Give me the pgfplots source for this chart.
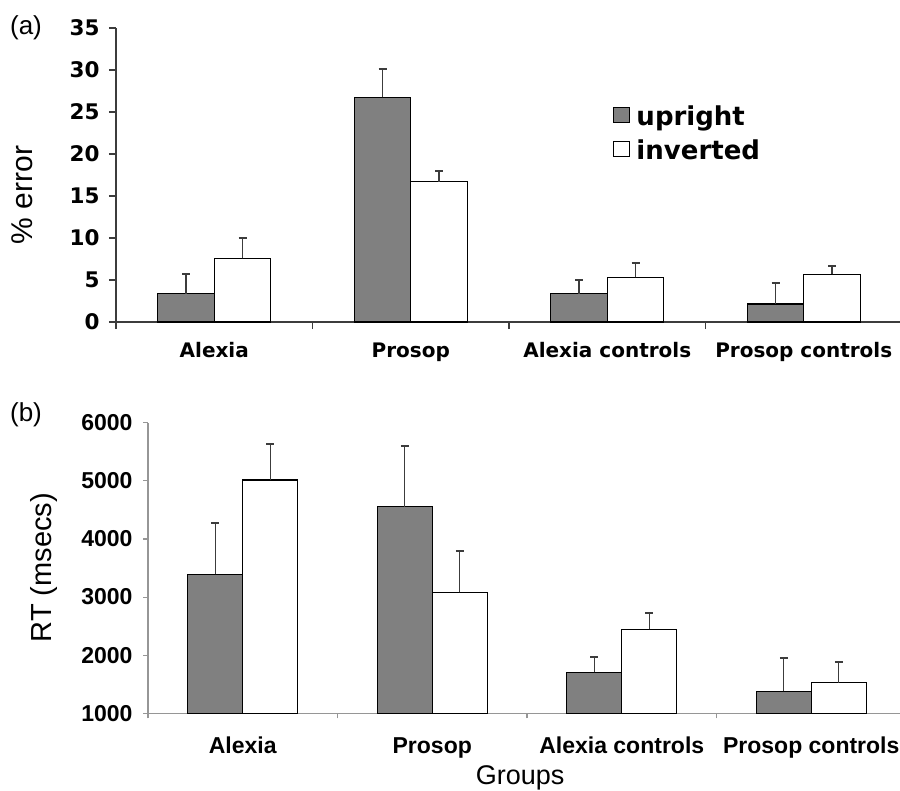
\documentclass[border=0pt]{standalone}
\usepackage{pgfplots}
\pgfplotsset{compat=1.18}
\usepackage{fontspec}
\setmainfont{Liberation Sans}
\newfontfamily\dejavu{DejaVu Sans}
\definecolor{barfill}{RGB}{128,128,128}
\definecolor{axA}{RGB}{60,60,60}
\definecolor{axB}{RGB}{150,150,150}
\definecolor{errc}{RGB}{60,60,60}
\pgfplotsset{
  errstyle/.style={error bars/.cd, y dir=plus, y explicit,
    error bar style={line width=1.3bp, draw=errc},
    error mark=|, error mark options={line width=1.8bp, mark size=4bp, draw=errc}},
}
\begin{document}
\begin{tikzpicture}[x=1bp,y=1bp]
% ---------------- panel (a)
\begin{axis}[
  at={(116bp,-322bp)}, anchor=south west,
  scale only axis, width=786bp, height=294bp,
  xmin=-0.5, xmax=3.5, ymin=0, ymax=35,
  axis x line=bottom, axis y line=left,
  axis line style={-, draw=axA, line width=1.1bp},
  tick style={draw=axA, line width=1.1bp},
  tick align=outside, major tick length=7bp,
  xtick={-0.5,0.5,1.5,2.5}, xticklabels={},
  extra x ticks={0,1,2,3},
  extra x tick labels={Alexia,Prosop,Alexia controls,Prosop controls},
  extra x tick style={major tick length=0pt},
  x tick label style={font=\dejavu\bfseries\fontsize{20bp}{24bp}\selectfont, anchor=base, yshift=-35bp},
  ytick={0,5,...,35},
  /pgf/number format/assume math mode=true,
  y tick label style={font=\dejavu\bfseries\fontsize{21.5bp}{25bp}\selectfont, anchor=east, xshift=-6bp},
  ylabel={\% error},
  ylabel style={at={(axis description cs:-0.1196,0.432)}, anchor=center, font=\fontsize{30bp}{34bp}\selectfont},
  ybar=0pt, bar width=56.5bp,
  legend style={draw=none, fill=none, inner sep=0pt, nodes={inner sep=0pt},
    at={(axis description cs:0.6323,0.737)}, anchor=north west,
    row sep=13bp, column sep=6bp,
    font=\dejavu\bfseries\fontsize{26bp}{30bp}\selectfont},
  legend cell align=left,
  legend image code/.code={\draw[#1, line width=1.3bp] (0bp,-6bp) rectangle (16bp,9bp);},
]
\addplot[fill=barfill, draw=black, line width=1.3bp, errstyle] coordinates {
  (0,3.37) +- (0,2.30)
  (1,26.75) +- (0,3.35)
  (2,3.37) +- (0,1.63)
  (3,2.14) +- (0,2.46)
};
\addplot[fill=white, draw=black, line width=1.3bp, errstyle] coordinates {
  (0,7.58) +- (0,2.46)
  (1,16.70) +- (0,1.28)
  (2,5.32) +- (0,1.74)
  (3,5.67) +- (0,1.03)
};
\legend{upright,inverted}
\end{axis}
\node[font=\fontsize{26bp}{30bp}\selectfont] at (26,-28) {(a)};
% ---------------- panel (b)
\begin{axis}[
  at={(148bp,-713.3bp)}, anchor=south west,
  scale only axis, width=758bp, height=290.6bp,
  xmin=-0.5, xmax=3.5, ymin=1000, ymax=6000,
  axis x line=bottom, axis y line=left,
  axis line style={-, draw=axB, line width=1.1bp},
  tick style={draw=axB, line width=1.1bp},
  tick align=outside, major tick length=5bp,
  xtick={-0.5,0.5,1.5,2.5}, xticklabels={},
  extra x ticks={0,1,2,3},
  extra x tick labels={Alexia,Prosop,Alexia controls,Prosop controls},
  extra x tick style={major tick length=0pt},
  x tick label style={font=\bfseries\fontsize{23bp}{27bp}\selectfont, anchor=base, yshift=-39.7bp},
  ytick={1000,2000,...,6000},
  /pgf/number format/assume math mode=true,
  /pgf/number format/1000 sep={},
  y tick label style={font=\bfseries\fontsize{23bp}{27bp}\selectfont, anchor=east, xshift=-7bp},
  ylabel={RT (msecs)},
  ylabel style={at={(axis description cs:-0.1372,0.5017)}, anchor=center, font=\fontsize{29bp}{33bp}\selectfont},
  xlabel={Groups},
  xlabel style={at={(axis description cs:0.4908,-0.221)}, anchor=center, font=\fontsize{27bp}{31bp}\selectfont},
  ybar=0pt, bar width=55bp,
]
\addplot[fill=barfill, draw=black, line width=1.3bp, errstyle] coordinates {
  (0,3392) +- (0,888)
  (1,4555) +- (0,1039)
  (2,1705) +- (0,258)
  (3,1378) +- (0,568)
};
\addplot[fill=white, draw=black, line width=1.3bp, errstyle] coordinates {
  (0,5014) +- (0,614)
  (1,3082) +- (0,711)
  (2,2445) +- (0,286)
  (3,1527) +- (0,356)
};
\end{axis}
\node[font=\fontsize{26bp}{30bp}\selectfont] at (26,-415) {(b)};
\pgfresetboundingbox
\path[use as bounding box] (0,0) rectangle (900,-791);
\end{tikzpicture}
\end{document}
